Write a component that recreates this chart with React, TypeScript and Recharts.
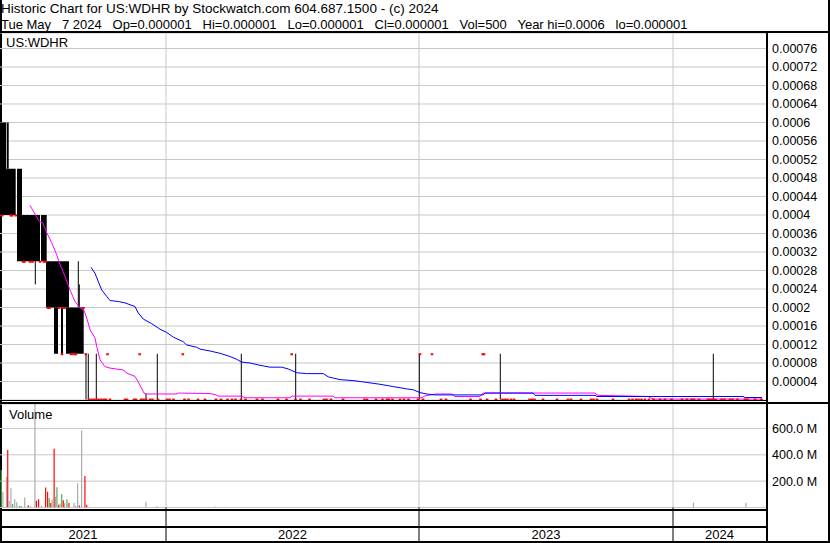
import React from "react";
import {
  ComposedChart,
  Bar,
  Cell,
  Line,
  Scatter,
  XAxis,
  YAxis,
  CartesianGrid,
  ReferenceArea,
  ReferenceLine,
} from "recharts";

const FONT = '"Liberation Sans", Arial, sans-serif';
const GRID = "#c8c8c8";

// x = trading-day index from the first bar shown
const yearLabels = ["2021", "2022", "2023", "2024"];
const yearStart = [0, 166, 419, 673];
const lastDay = 766;

const priceTicks = [
  0.00004, 0.00008, 0.00012, 0.00016, 0.0002, 0.00024, 0.00028, 0.00032, 0.00036, 0.0004,
  0.00044, 0.00048, 0.00052, 0.00056, 0.0006, 0.00064, 0.00068, 0.00072, 0.00076,
];
const priceTop = 0.0007935;
const volTicks = [200e6, 400e6, 600e6];
const volTop = 785.6e6;

// candle bodies (runs of days at the same open/close)
const bodyFrom = [0, 6.7, 6, 17, 17, 41, 46, 54, 61, 66];
const bodyTo = [6, 8.7, 15.7, 22, 40, 46.7, 69, 58, 63, 83.7];
const bodyLo = [0.0004, 0.0005, 0.0004, 0.0004, 0.0003, 0.0003, 0.0002, 0.0001, 0.0001, 0.0001];
const bodyHi = [0.0006, 0.0006, 0.0005, 0.0005, 0.0004, 0.0004, 0.0003, 0.0002, 0.0002, 0.0002];

// thin high/low bars
const wickDay = [35.3, 78.3, 79.3, 86, 88.3, 96.3, 146, 157.3, 241.3, 295.7, 419.3, 500.3, 713.3];
const wickLo = [0.00025, 0.0002, 0.0002, 0.000001, 0.000001, 0.000001, 0.000001, 0.000001, 0.000001, 0.000001, 0.000001, 0.000001, 0.000001];
const wickHi = [0.0003, 0.0003, 0.00025, 0.0001, 0.0001, 0.0001, 0.000014, 0.0001, 0.0001, 0.0001, 0.0001, 0.0001, 0.0001];

// closes
const closeDay = [
  2.2, 10.8, 12.2, 15.8, 23, 24.5, 30, 32.5, 40, 44, 45.5, 48, 49.5, 59, 63, 64.5, 83.5,
  62, 71, 73.5, 75.8, 85.8, 107.5, 139.7, 182.8, 291.7, 420, 432, 482.8, 484,
];
const closeVal = [
  0.0004, 0.0004, 0.0004, 0.0004,
  0.0003, 0.0003, 0.0003, 0.0003, 0.0003, 0.0003, 0.0003,
  0.0002, 0.0002, 0.0002, 0.0002, 0.0002, 0.0002,
  0.0001, 0.0001, 0.0001, 0.0001, 0.0001, 0.0001, 0.0001, 0.0001, 0.0001, 0.0001, 0.0001, 0.0001, 0.0001,
];
const floorPrice = 0.000002;
const floorCloseDay = [
  89, 91.5, 94, 96.5, 99, 101.5, 104, 106, 110, 125, 127, 134, 136, 141, 143.5, 146, 150, 152.5,
  158, 167, 169.5, 173.5, 184.5, 188.5, 198, 205, 216, 221, 227.5, 232, 235.5, 241, 245.5, 257,
  262.5, 278, 286.5, 295.5, 300.5, 309.5, 324, 326.5, 331, 343, 364.5, 367, 376, 382.5, 387, 389,
  392.5, 400, 404, 408.5, 418, 423, 441, 446, 470.5, 480.5, 487, 496, 502.5, 505, 507.5, 511, 514,
  529.5, 532, 534.5, 543, 557, 568, 571, 581, 591, 593.5, 597, 613, 629, 632.5, 636, 638.5, 641.5,
  645, 649, 653.5, 660, 665, 671.5, 682, 687, 691.5, 694, 699, 708, 710.5, 713, 715.5, 721.5,
  724.5, 730, 732.5, 737.5, 745, 747.5, 755, 761.5,
];

// short moving average (magenta)
const fastDay = [
  30, 33.3, 39.3, 42.7, 46.7, 51.7, 56.7, 59.3, 65, 70, 75, 80, 84, 87.3, 90, 95, 96.7, 100, 105,
  110, 123, 127, 135, 138, 144, 146, 177, 178, 210, 216, 218, 242, 245, 290, 292, 333, 335, 422,
  425, 436, 452, 455, 480, 483, 595, 597, 600, 607, 648, 651, 653, 762,
];
const fastVal = [
  0.000421, 0.000408, 0.000386, 0.000383, 0.000362, 0.00034, 0.000314, 0.000297, 0.000267,
  0.000238, 0.000213, 0.000199, 0.000194, 0.000173, 0.000152, 0.000134, 0.000116, 0.000087,
  0.000072, 0.000069, 0.000065, 0.000058, 0.000051, 0.00004, 0.000015, 0.000013, 0.000013,
  0.000015, 0.000014, 0.000011, 0.0000084, 0.0000084, 0.0000048, 0.0000048, 0.0000084, 0.0000084,
  0.0000048, 0.0000048, 0.000009, 0.000013, 0.000013, 0.0000076, 0.0000076, 0.000015, 0.000015,
  0.000011, 0.0000097, 0.0000097, 0.0000076, 0.000004, 0.000002, 0.000002,
];

// long moving average (blue)
const slowDay = [
  91, 95, 98.3, 101.7, 106.7, 110, 118.3, 125, 135, 138.3, 143.3, 151.7, 160, 166.7, 173.3, 183.3,
  186.7, 196.7, 200, 210, 220, 230, 236.7, 241.7, 250, 260, 270, 281.7, 288.3, 296.7, 306.7, 323.3,
  328.3, 340, 353.3, 366.7, 380, 393.3, 406.7, 413.3, 420, 426.7, 435, 483, 485, 533, 535, 595, 597,
  743, 745, 762,
];
const slowVal = [
  0.000287, 0.000274, 0.000256, 0.000238, 0.000224, 0.000215, 0.000213, 0.00021, 0.000202,
  0.000188, 0.000175, 0.000165, 0.000153, 0.000146, 0.000136, 0.000126, 0.000119, 0.000114,
  0.00011, 0.000106, 0.000101, 0.000094, 0.000088, 0.000082, 0.00008, 0.000075, 0.000071,
  0.000071, 0.000067, 0.000059, 0.000057, 0.000057, 0.00005, 0.000044, 0.000042, 0.000038,
  0.000034, 0.000029, 0.000024, 0.000022, 0.000016, 0.000013, 0.000011, 0.000011, 0.000015,
  0.000015, 0.00001, 0.00001, 0.0000076, 0.0000076, 0.0000054, 0.0000054,
];

// volume, millions of shares; u = up day, d = down day, n = unchanged
const volDay = [
  1.3, 3, 6.5, 7.8, 9.2, 11, 12.7, 14.8, 16.8, 19.5, 21.3, 24.8, 28.3, 30.5, 35, 36.5, 38.7, 41.7,
  45.7, 47.7, 49.3, 50.8, 52.2, 54.2, 55.5, 57, 58.8, 60.2, 61.8, 63.3, 64.7, 67, 69, 74, 75.8,
  77.7, 79.4, 81.7, 85, 86.8, 95.8, 146, 157, 215, 226, 398, 611, 693.5, 746,
];
const volM = [
  285, 120, 234, 437, 49, 146, 27, 65, 40, 12, 12, 75, 18, 10, 900, 52, 62, 15, 151, 120, 70, 35,
  60, 445, 82, 154, 20, 30, 103, 55, 32, 62, 35, 35, 15, 184, 15, 584, 240, 20, 5, 44, 11, 8, 5, 3,
  3, 36, 36,
];
const volDir = [
  "u", "n", "n", "d", "n", "n", "u", "n", "n", "u", "u", "n", "d", "n", "n", "d", "d", "n",
  "d", "d", "u", "d", "n", "d", "n", "u", "d", "n", "u", "d", "n", "u", "d", "n", "n",
  "n", "d", "n", "d", "d", "n", "n", "n", "n", "n", "n", "n", "n", "n",
];
const dirColor: Record<string, string> = { u: "#4cae4c", d: "#ff0000", n: "#a9a9a9" };

const fastLine = fastDay.map((x, i) => ({ x, y: fastVal[i] }));
const slowLine = slowDay.map((x, i) => ({ x, y: slowVal[i] }));
const closes = [
  ...closeDay.map((x, i) => ({ x, y: closeVal[i] })),
  ...floorCloseDay.map((x) => ({ x, y: floorPrice })),
];
const volume = volDay.map((x, i) => ({ x, v: volM[i] * 1e6, dir: volDir[i] }));

const yearMid = yearStart.map((s, i) => (s + (i < yearStart.length - 1 ? yearStart[i + 1] : lastDay)) / 2);
const stripTicks = [...yearStart.slice(1), ...yearMid].sort((a, b) => a - b);

const CloseTick = (p: any) => (
  <rect x={p.cx - 1.3} y={p.cy - 0.5} width={2.6} height={2} fill="#ff0000" />
);

function YearTick(props: any) {
  const { x, y, payload } = props;
  const j = yearMid.indexOf(payload.value);
  if (j < 0) {
    return <line x1={x} x2={x} y1={y} y2={y + 34} stroke="#000" strokeWidth={1} />;
  }
  return (
    <text x={x} y={y + 31} textAnchor="middle" fontSize={13} fontFamily={FONT} fill="#000">
      {yearLabels[j]}
    </text>
  );
}

const axisTick = { fontSize: 12.5, fill: "#000", fontFamily: FONT };

const hLine = (top: number, h: number, w: number) => (
  <div style={{ position: "absolute", left: 0, top, width: w, height: h, background: "#000" }} />
);

export default function App() {
  return (
    <div
      style={{
        position: "absolute",
        left: 0,
        top: 0,
        width: 830,
        height: 543,
        background: "#fff",
        fontFamily: FONT,
        color: "#000",
        overflow: "hidden",
      }}
    >
      {/* frame */}
      <div style={{ position: "absolute", left: 0, top: 0, width: 2, height: 543, background: "#000" }} />
      <div style={{ position: "absolute", left: 828, top: 0, width: 2, height: 543, background: "#000" }} />
      <div style={{ position: "absolute", left: 766, top: 33, width: 2, height: 510, background: "#000" }} />
      {hLine(31, 2, 830)}
      {hLine(400, 1, 766)}
      {hLine(402, 2, 830)}
      {hLine(509, 2, 766)}
      {hLine(526, 2, 766)}
      {hLine(541, 2, 830)}

      <div style={{ position: "absolute", left: 1, top: 1, fontSize: 13.5, lineHeight: "15px", whiteSpace: "pre" }}>
        Historic Chart for US:WDHR by Stockwatch.com 604.687.1500 - (c) 2024
      </div>
      <div style={{ position: "absolute", left: 1, top: 16.5, fontSize: 13, lineHeight: "15px", whiteSpace: "pre" }}>
        {"Tue May   7 2024   Op=0.000001   Hi=0.000001   Lo=0.000001   Cl=0.000001   Vol=500   Year hi=0.0006   lo=0.000001"}
      </div>

      <div style={{ position: "absolute", left: 0, top: 33 }}>
        <ComposedChart width={830} height={367} margin={{ top: 0, right: 0, bottom: 0, left: 0 }}>
          <CartesianGrid vertical={false} stroke={GRID} />
          <XAxis type="number" dataKey="x" domain={[0, lastDay]} hide allowDataOverflow />
          <YAxis
            orientation="right"
            type="number"
            dataKey="y"
            domain={[0, priceTop]}
            ticks={priceTicks}
            interval={0}
            width={64}
            axisLine={false}
            tickLine={false}
            tickSize={6}
            tickMargin={0}
            tick={axisTick}
            allowDataOverflow
          />
          {yearStart.slice(1).map((d) => (
            <ReferenceLine key={`g${d}`} x={d} stroke={GRID} />
          ))}
          {bodyFrom.map((f, i) => (
            <ReferenceArea
              key={`b${i}`}
              x1={f}
              x2={bodyTo[i]}
              y1={bodyLo[i]}
              y2={bodyHi[i]}
              fill="#000"
              fillOpacity={1}
              stroke="none"
            />
          ))}
          {wickDay.map((d, i) => (
            <ReferenceLine
              key={`w${i}`}
              segment={[
                { x: d, y: wickLo[i] },
                { x: d, y: wickHi[i] },
              ]}
              stroke="#000"
              strokeWidth={1}
            />
          ))}
          <Scatter data={closes} shape={CloseTick} isAnimationActive={false} />
          <Line data={fastLine} dataKey="y" type="linear" stroke="#ff00ff" strokeWidth={1} dot={false} isAnimationActive={false} />
          <Line data={slowLine} dataKey="y" type="linear" stroke="#0000ff" strokeWidth={1} dot={false} isAnimationActive={false} />
        </ComposedChart>
      </div>

      <div style={{ position: "absolute", left: 6, top: 35, fontSize: 13, lineHeight: "15px" }}>US:WDHR</div>

      <div style={{ position: "absolute", left: 0, top: 404 }}>
        <ComposedChart width={830} height={137.5} data={volume} margin={{ top: 0, right: 0, bottom: 0, left: 0 }}>
          <CartesianGrid vertical={false} stroke={GRID} />
          <XAxis
            type="number"
            dataKey="x"
            domain={[0, lastDay]}
            ticks={stripTicks}
            interval={0}
            height={34}
            axisLine={false}
            tickLine={false}
            tickSize={0}
            tickMargin={0}
            tick={<YearTick />}
            allowDataOverflow
          />
          <YAxis
            orientation="right"
            type="number"
            dataKey="v"
            domain={[0, volTop]}
            ticks={volTicks}
            interval={0}
            width={64}
            axisLine={false}
            tickLine={false}
            tickSize={6}
            tickMargin={0}
            tick={axisTick}
            tickFormatter={(v: number) => `${(v / 1e6).toFixed(1)} M`}
            allowDataOverflow
          />
          {yearStart.slice(1).map((d) => (
            <ReferenceLine key={`vg${d}`} x={d} stroke={GRID} />
          ))}
          <Bar dataKey="v" barSize={2} isAnimationActive={false}>
            {volume.map((d, i) => (
              <Cell key={i} fill={dirColor[d.dir]} />
            ))}
          </Bar>
        </ComposedChart>
      </div>

      <div style={{ position: "absolute", left: 9, top: 406.5, fontSize: 13, lineHeight: "15px" }}>Volume</div>
    </div>
  );
}
